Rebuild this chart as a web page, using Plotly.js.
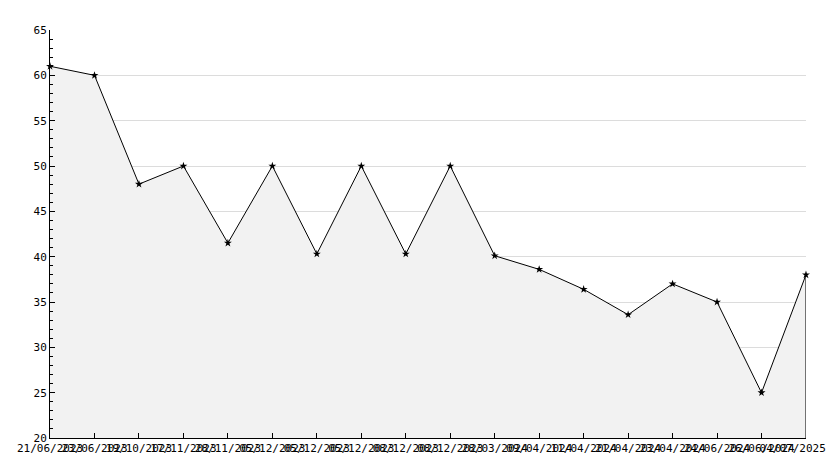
<!DOCTYPE html>
<html><head><meta charset="utf-8">
<script src="https://cdn.plot.ly/plotly-3.0.1.min.js"></script>
<style>html,body{margin:0;padding:0;background:#fff}#c{width:834px;height:468px}</style>
</head><body><div id="c"></div>
<script>
const dates = ["21/06/2023","23/06/2023","19/10/2023","17/11/2023","28/11/2023","05/12/2023","05/12/2023","05/12/2023","08/12/2023","08/12/2023","28/03/2024","09/04/2024","11/04/2024","21/04/2024","23/04/2024","24/06/2024","26/06/2024","04/07/2025"];
const values = [61, 60, 48, 50, 41.5, 50, 40.3, 50, 40.3, 50, 40.1, 38.6, 36.4, 33.6, 37, 35, 25, 38];
const idx = dates.map((d,i)=>i);
const yMin = 20, yMax = 65;
const last = idx.length - 1;
// pad the last label so it stays inside the page, like the reference
const tickText = dates.map((d,i)=> i===last ? d + '\u00a0\u00a0\u00a0\u00a0' : d);

const traces = [
  {x: idx, y: values, type:'scatter', mode:'lines+markers', fill:'tozeroy', fillcolor:'#f2f2f2',
   line:{color:'#000', width:1}, marker:{symbol:'star', size:6, color:'#000'}, hoverinfo:'skip', cliponaxis:false},
  {x: [idx[last], idx[last]], y: [yMin, values[last]], type:'scatter', mode:'lines',
   line:{color:'#000', width:1}, hoverinfo:'skip', cliponaxis:false}
];
const font = {family:'"DejaVu Sans Mono", monospace', size:11, color:'#000'};
const layout = {
  width:834, height:468, showlegend:false,
  paper_bgcolor:'#fff', plot_bgcolor:'#fff',
  margin:{l:50, r:28, t:30, b:30, pad:0, autoexpand:false},
  font: font,
  xaxis:{range:[-0.0005,last+0.0005], tickvals: idx, ticktext: tickText, showgrid:false, zeroline:false,
    showline:true, linecolor:'#000', linewidth:1, ticks:'inside', ticklen:5, tickcolor:'#000',
    tickangle:0, tickfont:font, automargin:false, ticklabeloverflow:'allow'},
  yaxis:{range:[yMin,yMax], dtick:5, showgrid:true, gridcolor:'#dcdcdc', gridwidth:1, zeroline:false,
    showline:true, linecolor:'#000', linewidth:1, ticks:'inside', ticklen:5, tickcolor:'#000',
    tickfont:font, minor:{dtick:1, ticks:'inside', ticklen:3, tickcolor:'#000', showgrid:false}}
};
Plotly.newPlot('c', traces, layout, {staticPlot:true, displayModeBar:false});
</script></body></html>
